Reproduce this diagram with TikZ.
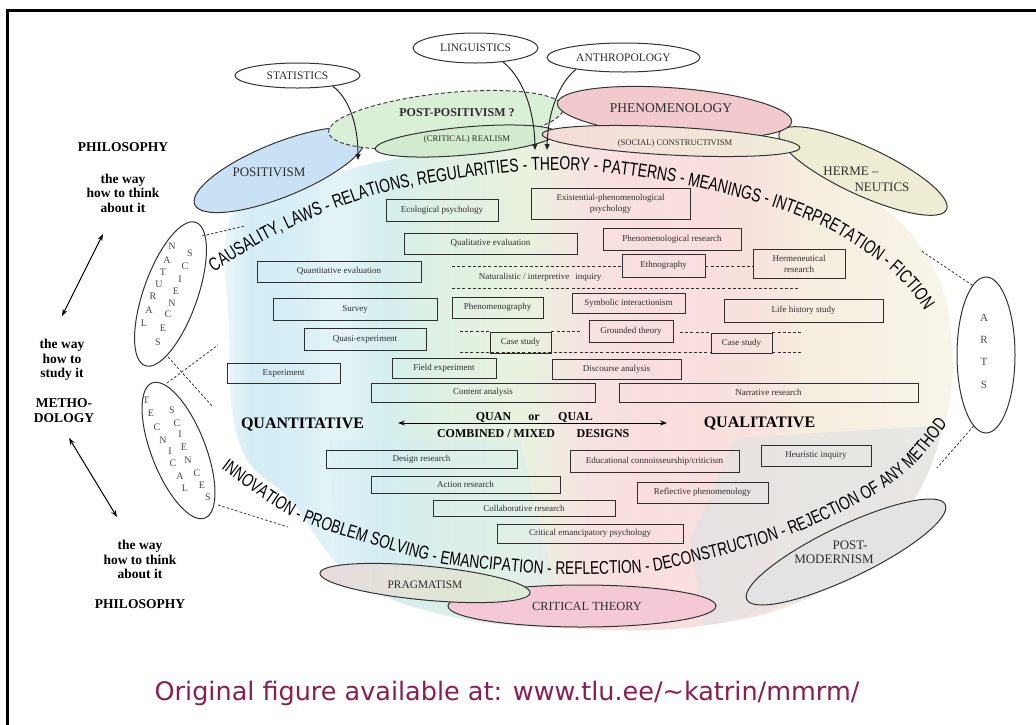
\documentclass[tikz,border=0pt]{standalone}
\usepackage{fontspec}
\setmainfont{Liberation Serif}
\newfontfamily\arcfont[FakeStretch=0.74]{Liberation Sans}
\newfontfamily\notefont{DejaVu Sans}
\usetikzlibrary{arrows.meta,decorations.text,shapes.geometric}
\newcommand\arcstyleupper{\arcfont\fontsize{18.8}{18.8}\selectfont}
\newcommand\arcstylelower{\arcfont\fontsize{18.5}{18.5}\selectfont}

\definecolor{ink}{HTML}{2E2E2E}
\definecolor{lettergray}{HTML}{4A4A4A}
\definecolor{posblue}{HTML}{C9E1F4}
\definecolor{ppgreen}{HTML}{DAF0D6}
\definecolor{crgreen}{HTML}{D2EACD}
\definecolor{phenpink}{HTML}{F2CACE}
\definecolor{scpink}{HTML}{F5DAD7}
\definecolor{scbeige}{HTML}{EFEDD9}
\definecolor{hermbeige}{HTML}{EEEDD4}
\definecolor{pragleft}{HTML}{E6DCDC}
\definecolor{pragright}{HTML}{DCEBD4}
\definecolor{ctpink}{HTML}{F4C8D5}
\definecolor{pmgray}{HTML}{E3E3E3}
\definecolor{notecol}{HTML}{8C1C52}
\definecolor{fan0}{HTML}{F2FAFC}
\definecolor{fan1}{HTML}{D4EDF5}
\definecolor{fan2}{HTML}{D6EEF5}
\definecolor{fan3}{HTML}{E4F4F7}
\definecolor{fan4}{HTML}{D4EEEE}
\definecolor{fan5}{HTML}{E0F1E2}
\definecolor{fan6}{HTML}{E9F2DF}
\definecolor{fan7}{HTML}{F6E4E1}
\definecolor{fan8}{HTML}{F9DEE0}
\definecolor{fan9}{HTML}{F8E0DD}
\definecolor{fan10}{HTML}{F6EEDF}
\definecolor{fan11}{HTML}{F7F5EA}

\begin{document}
\begin{tikzpicture}[x=1pt,y=1pt,
  ellline/.style={draw=black!80, line width=1pt},
  topic/.style={ellipse, draw=black!80, line width=1pt, fill=white, inner sep=0pt,
                text=ink, font=\fontsize{11.5}{11.5}\selectfont},
  lbl/.style={text=ink, inner sep=0pt},
  box/.style={draw=ink, line width=0.75pt, inner sep=1pt, text=ink,
              font=\fontsize{9}{11}\selectfont, align=center},
  guide/.style={draw=ink, line width=0.75pt, dash pattern=on 3pt off 2.2pt},
  sideguide/.style={draw=ink, line width=0.75pt, dash pattern=on 2.5pt off 2pt},
  sidehead/.style={font=\bfseries\fontsize{13.5}{14.5}\selectfont, align=center, inner sep=0pt},
  letter/.style={text=lettergray, font=\fontsize{10}{10}\selectfont, inner sep=0pt},
  curvearrow/.style={draw=black!85, line width=1pt, -{Triangle[length=6pt,width=5pt]}},
  dblarrow/.style={line width=1pt, {Stealth[length=7pt,width=5pt]}-{Stealth[length=7pt,width=5pt]}},
  bighead/.style={font=\bfseries\fontsize{16}{16}\selectfont, inner sep=0pt},
  midhead/.style={font=\bfseries\fontsize{12}{12}\selectfont, inner sep=0pt, anchor=base}
]
\useasboundingbox (0,0) rectangle (1036,-724);

% frame
\begin{scope}
  \clip (0,0) rectangle (1036,-724);
  \draw[line width=3pt] (7.5,-740) -- (7.5,-10) -- (1050,-10);
\end{scope}

% pastel fan behind the methods
\begin{scope}
  \clip plot[smooth cycle, tension=0.7] coordinates {(232,-215) (300,-186) (400,-158) (560,-142)
    (760,-150) (865,-195) (930,-262) (952,-345) (942,-432) (900,-520) (820,-592) (700,-626)
    (560,-628) (440,-614) (350,-575) (292,-502) (240,-445) (229,-330)};
  \foreach \xa/\xb/\ca/\cb in {215/250/fan0/fan1, 250/292/fan1/fan2, 292/335/fan2/fan3,
      335/385/fan3/fan4, 385/445/fan4/fan5, 445/525/fan5/fan6, 525/580/fan6/fan7,
      580/640/fan7/fan8, 640/745/fan8/fan9, 745/810/fan9/fan10, 810/960/fan10/fan11}
    \shade[left color=\ca, right color=\cb] (\xa,-130) rectangle ({\xb+0.8},-640);
  \fill[fan1, opacity=0.35] (330,-440) -- (520,-440) -- (565,-630) -- (430,-630) -- (335,-570) -- cycle;
  \fill[pmgray, opacity=0.75] (735,-438) -- (948,-425) -- (915,-520) -- (830,-592) -- (705,-628) -- (690,-540) -- cycle;
\end{scope}

% sciences and arts
\path[ellline, fill=white, rotate around={70.5:(170.5,-294)}] (170.5,-294) ellipse [x radius=76, y radius=27];
\path[ellline, fill=white, rotate around={-68.6:(178.5,-450.5)}] (178.5,-450.5) ellipse [x radius=72.5, y radius=27];
\node[ellipse, draw=black!80, line width=1pt, fill=white, minimum width=58pt, minimum height=156pt] (arts) at (986,-355) {};

% disciplines feeding the theory line
\node[topic, minimum width=125pt, minimum height=25pt] (stat) at (297.5,-75.5) {STATISTICS};
\node[topic, minimum width=125pt, minimum height=30pt] (ling) at (475.5,-48) {LINGUISTICS};
\node[topic, minimum width=153pt, minimum height=29pt] (anth) at (623.5,-57.5) {ANTHROPOLOGY};

% paradigms
\path[ellline, fill=posblue, rotate around={22:(280,-170)}] (280,-170) ellipse [x radius=92, y radius=27];
\path[draw=black!75, line width=1pt, dash pattern=on 4pt off 2.5pt, fill=ppgreen, rotate around={6:(446,-120)}] (446,-120) ellipse [x radius=118, y radius=27];
\path[ellline, fill=crgreen, rotate around={5:(466,-141)}] (466,-141) ellipse [x radius=91, y radius=14];
\path[ellline, fill=hermbeige, rotate around={-24.8:(863,-171)}] (863,-171) ellipse [x radius=92, y radius=24];
\path[ellline, fill=phenpink, rotate around={-4.5:(674.5,-112.5)}] (674.5,-112.5) ellipse [x radius=117.5, y radius=24.5];
\path[ellline, left color=scpink, right color=scbeige, rotate around={-3:(671,-141)}] (671,-141) ellipse [x radius=129, y radius=14];
\path[ellline, fill=ctpink] (582,-606) ellipse [x radius=134, y radius=21];
\path[ellline, left color=pragleft, right color=pragright, rotate around={-5.4:(425,-583)}] (425,-583) ellipse [x radius=105.5, y radius=17];
\path[ellline, fill=pmgray, rotate around={25.6:(846,-552)}] (846,-552) ellipse [x radius=110, y radius=26];

% paradigm labels
\node[lbl, font=\fontsize{13}{13}\selectfont] (positivism) at (269,-172) {POSITIVISM};
\node[lbl, font=\bfseries\fontsize{12}{12}\selectfont] (postpos) at (457,-113) {POST-POSITIVISM ?};
\node[lbl, font=\fontsize{8.7}{8.7}\selectfont] (realism) at (467,-139) {(CRITICAL) REALISM};
\node[lbl, font=\fontsize{13.5}{13.5}\selectfont] (phenom) at (671,-108) {PHENOMENOLOGY};
\node[lbl, font=\fontsize{8.6}{8.6}\selectfont] (constr) at (675,-143) {(SOCIAL) CONSTRUCTIVISM};
\node[lbl, font=\fontsize{13}{13}\selectfont] (herm1) at (851,-171) {HERME --};
\node[lbl, font=\fontsize{13}{13}\selectfont] (herm2) at (882,-187) {NEUTICS};
\node[lbl, font=\fontsize{11.4}{11.4}\selectfont] (pragm) at (425,-585) {PRAGMATISM};
\node[lbl, font=\fontsize{12.4}{12.4}\selectfont] (crit) at (587,-606) {CRITICAL THEORY};
\node[lbl, font=\fontsize{13}{13}\selectfont] (pm1) at (850,-545) {POST-};
\node[lbl, font=\fontsize{13}{13}\selectfont] (pm2) at (834,-559) {MODERNISM};

% letters in the science and arts ovals
\foreach \ch/\px/\py [count=\i] in {N/172/246, A/167/260, T/163/272, U/159/284, R/153/296, A/149/310, L/144/323,
    S/190/253, C/185/266, I/180/279, E/176/291, N/172/303, C/168/314, E/163/328, S/158/342}
  \node[letter] (nat\i) at (\px,-\py) {\ch};
\foreach \ch/\px/\py [count=\i] in {T/146/400, E/151/413, C/157/427, N/163/440, I/170/451, C/173/463, A/180/476, L/185/488,
    S/172/410, C/177/423, I/180/434, E/184/447, N/188/460, C/197/473, E/202/485, S/208/497}
  \node[letter] (tec\i) at (\px,-\py) {\ch};
\foreach \ch/\py [count=\i] in {A/318, R/340, T/362, S/385}
  \node[letter, font=\fontsize{11}{11}\selectfont] (art\i) at (984,-\py) {\ch};

% dotted links between the ovals and the two lines of keywords
\draw[sideguide] (202,-236) -- (245,-226);
\draw[sideguide] (168,-357) -- (213,-407);
\draw[sideguide] (167,-383) -- (218,-345);
\draw[sideguide] (218,-505) -- (288,-527);
\draw[sideguide] (arts.101) -- (920,-250);
\draw[sideguide] (arts.-100) -- (937,-468);

% keyword lines
\path[decorate, decoration={text along path, text align=left,
    text={|\arcstyleupper|CAUSALITY, LAWS - RELATIONS, REGULARITIES - THEORY - PATTERNS - MEANINGS - INTERPRETATION - FICTION}}]
  plot[smooth] coordinates {(214,-272) (262,-242) (317,-216) (385,-192) (450,-180) (512,-172) (560,-170)
    (610,-173) (677,-183) (767,-205) (830,-230) (880,-262) (910,-290) (932,-322) (945,-345)};
\path[decorate, decoration={text along path, text align=left,
    text={|\arcstylelower|INNOVATION - PROBLEM SOLVING - EMANCIPATION - REFLECTION - DECONSTRUCTION - REJECTION OF ANY METHOD}}]
  plot[smooth] coordinates {(221,-468) (290,-516) (363,-542) (445,-564) (543,-574) (605,-574) (665,-569)
    (785,-537) (872,-496) (913,-466) (952,-418) (965,-395)};

% incoming arrows
\draw[curvearrow] (stat.-17) .. controls (349,-98) and (358,-125) .. (358,-160);
\draw[curvearrow] (ling.-27) .. controls (520,-75) and (534,-105) .. (535,-150);
\draw[curvearrow] (anth.194) .. controls (560,-82) and (548,-110) .. (547,-150);

% method boxes
\node[box, minimum width=112pt, minimum height=22pt] (eco) at (442,-210) {Ecological psychology};
\node[box, minimum width=159pt, minimum height=31pt] (exist) at (610.5,-203.5) {Existential-phenomenological\\psychology};
\node[box, minimum width=173pt, minimum height=21pt] (qualeval) at (490.5,-243.5) {Qualitative evaluation};
\node[box, minimum width=138pt, minimum height=22pt] (phenres) at (672,-239) {Phenomenological research};
\node[box, minimum width=164pt, minimum height=21pt] (quanteval) at (339,-271.5) {Quantitative evaluation};
\node[box, minimum width=83pt, minimum height=23pt] (ethno) at (663.5,-265.5) {Ethnography};
\node[box, minimum width=92pt, minimum height=29pt] (hermres) at (799,-263.5) {Hermeneutical\\research};
\node[box, minimum width=164pt, minimum height=22pt] (survey) at (355,-309) {Survey};
\node[box, minimum width=91pt, minimum height=21pt] (phenogr) at (497.5,-307.5) {Phenomenography};
\node[box, minimum width=113pt, minimum height=20pt] (symb) at (628.5,-303) {Symbolic interactionism};
\node[box, minimum width=159pt, minimum height=23pt] (life) at (803.5,-310.5) {Life history study};
\node[box, minimum width=122pt, minimum height=22pt] (quasi) at (365,-339) {Quasi-experiment};
\node[box, minimum width=84pt, minimum height=22pt] (grounded) at (631,-331) {Grounded theory};
\node[box, minimum width=61pt, minimum height=21pt] (caseA) at (520.5,-342.5) {Case study};
\node[box, minimum width=61pt, minimum height=20pt] (caseB) at (741.5,-343) {Case study};
\node[box, minimum width=113pt, minimum height=20pt] (exper) at (283.5,-373) {Experiment};
\node[box, minimum width=104pt, minimum height=20pt] (field) at (444,-368) {Field experiment};
\node[box, minimum width=129pt, minimum height=20pt] (discourse) at (616.5,-369) {Discourse analysis};
\node[box, minimum width=224pt, minimum height=19pt] (content) at (483,-392.5) {Content analysis};
\node[box, minimum width=299pt, minimum height=19pt] (narr) at (768.5,-392.5) {Narrative research};
\node[box, minimum width=191pt, minimum height=18pt] (design) at (421.5,-459) {Design research};
\node[box, minimum width=169pt, minimum height=22pt] (educ) at (654.5,-461) {Educational connoisseurship/criticism};
\node[box, minimum width=110pt, minimum height=21pt] (heur) at (816,-455.5) {Heuristic inquiry};
\node[box, minimum width=189pt, minimum height=17pt] (action) at (465.5,-484.5) {Action research};
\node[box, minimum width=131pt, minimum height=21pt] (reflect) at (702.5,-492.5) {Reflective phenomenology};
\node[box, minimum width=182pt, minimum height=16pt] (collab) at (524,-508) {Collaborative research};
\node[box, minimum width=186pt, minimum height=19pt] (critemanc) at (590,-533.5) {Critical emancipatory psychology};

% naturalistic / interpretive band
\draw[guide] (452,-266) -- (ethno.west |- 0,-266);
\draw[guide] (ethno.east |- 0,-266) -- (hermres.west |- 0,-266);
\node[lbl, font=\fontsize{9}{9}\selectfont] (natinq) at (540,-277) {Naturalistic / interpretive\hspace{6pt}inquiry};
\draw[guide] (452,-288) -- (800,-288);
\draw[guide] (460,-331) -- (caseA.west |- 0,-331);
\draw[guide] (caseA.east |- 0,-331) -- (580,-331);
\draw[guide] (680,-332) -- (caseB.west |- 0,-332);
\draw[guide] (caseB.east |- 0,-332) -- (803,-332);
\draw[guide] (460,-352) -- (caseB.west |- 0,-352);
\draw[guide] (caseB.east |- 0,-352) -- (803,-352);

% quantitative - qualitative axis
\node[bighead] (quant) at (302.5,-424) {QUANTITATIVE};
\node[bighead] (qual) at (759.5,-423) {QUALITATIVE};
\coordinate (axL) at (398,-423);
\coordinate (axR) at (667,-423);
\draw[dblarrow] (axL) -- (axR);
\node[midhead] (quan) at (493.5,-420) {QUAN};
\node[midhead] (or) at (534,-420) {or};
\node[midhead] (qualw) at (575.5,-420) {QUAL};
\node[midhead] (comb) at (496,-437.5) {COMBINED / MIXED};
\node[midhead] (designs) at (603,-437.5) {DESIGNS};

% left margin: philosophy and methodology
\node[sidehead] (philA) at (123,-147) {PHILOSOPHY};
\node[sidehead] (thinkA) at (123,-193) {the way\\how to think\\about it};
\node[sidehead] (study) at (62,-360) {the way\\how to\\study it};
\node[sidehead] (method) at (64,-410.5) {METHO-\\DOLOGY};
\node[sidehead] (thinkB) at (140,-559.5) {the way\\how to think\\about it};
\node[sidehead] (philB) at (140,-604) {PHILOSOPHY};
\coordinate (upA) at (103,-234);
\coordinate (dnA) at (62,-316);
\coordinate (upB) at (69,-438);
\coordinate (dnB) at (117,-517);
\draw[dblarrow] (upA) -- (dnA);
\draw[dblarrow] (upB) -- (dnB);

% source note
\node[anchor=base, text=notecol, font=\notefont\fontsize{25.5}{25.5}\selectfont, inner sep=0pt] (note) at (507,-700)
  {Original figure available at: www.tlu.ee/\textasciitilde katrin/mmrm/};
\end{tikzpicture}
\end{document}
